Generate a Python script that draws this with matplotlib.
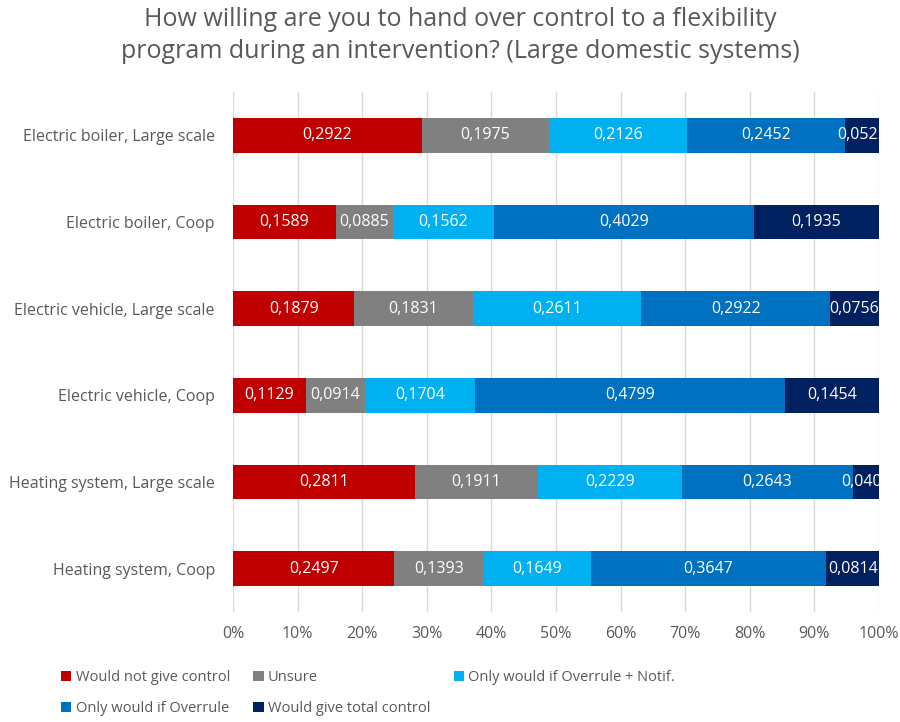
import matplotlib.pyplot as plt
import numpy as np

plt.rcParams['font.family'] = ['Open Sans', 'DejaVu Sans']

categories = ['Electric boiler, Large scale', 'Electric boiler, Coop',
              'Electric vehicle, Large scale', 'Electric vehicle, Coop',
              'Heating system, Large scale', 'Heating system, Coop']
series = ['Would not give control', 'Unsure', 'Only would if Overrule + Notif.',
          'Only would if Overrule', 'Would give total control']
no_control = [0.2922, 0.1589, 0.1879, 0.1129, 0.2811, 0.2497]
unsure = [0.1975, 0.0885, 0.1831, 0.0914, 0.1911, 0.1393]
overrule_notif = [0.2126, 0.1562, 0.2611, 0.1704, 0.2229, 0.1649]
overrule = [0.2452, 0.4029, 0.2922, 0.4799, 0.2643, 0.3647]
total_control = [0.0525, 0.1935, 0.0756, 0.1454, 0.0406, 0.0814]
colors = ['#C00000', '#808080', '#00B0F0', '#0070C0', '#002060']

fig = plt.figure(figsize=(9, 7.22), dpi=100)
ax = fig.add_axes([233/900, 1-612/722, (879-233)/900, (612-92)/722])

y = np.arange(len(categories))
left = np.zeros(len(categories))
handles = []
for name, vals, c in zip(series, [no_control, unsure, overrule_notif, overrule, total_control], colors):
    vals = np.array(vals)
    b = ax.barh(y, vals, left=left, height=0.4, color=c, label=name, zorder=3)
    handles.append(b)
    for yi, l, v in zip(y, left, vals):
        ax.text(l + v/2, yi, f'{v:g}'.replace('.', ','), ha='center', va='center',
                color='white', fontsize=11.5, zorder=4, clip_on=True)
    left += vals

ax.set_xlim(0, 1)
ax.set_ylim(len(categories) - 0.5, -0.5)
ax.set_yticks(y)
ax.set_yticklabels(categories)
ax.set_xticks(np.arange(0, 1.01, 0.1))
ax.set_xticklabels([f'{int(round(t*100))}%' for t in np.arange(0, 1.01, 0.1)])
ax.tick_params(length=0, labelsize=11.5, colors='#595959', pad=10)
ax.tick_params(axis='y', pad=13)
ax.grid(axis='x', color='#D9D9D9', linewidth=1, zorder=0)
for s in ax.spines.values():
    s.set_visible(False)

fig.text(0.511, 0.951, 'How willing are you to hand over control to a flexibility\nprogram during an intervention? (Large domestic systems)',
         ha='center', va='center', fontsize=18, color='#595959', linespacing=1.35)

order = [0, 3, 1, 4, 2]
fig.legend([handles[i] for i in order], [series[i] for i in order], ncol=3,
           loc='upper left', bbox_to_anchor=(48/900, 1-657/722), frameon=False,
           fontsize=10.5, labelcolor='#595959', handlelength=0.7, handleheight=0.7,
           handletextpad=0.3, columnspacing=1.6, labelspacing=1.1)

fig.savefig('out.png', dpi=100)
